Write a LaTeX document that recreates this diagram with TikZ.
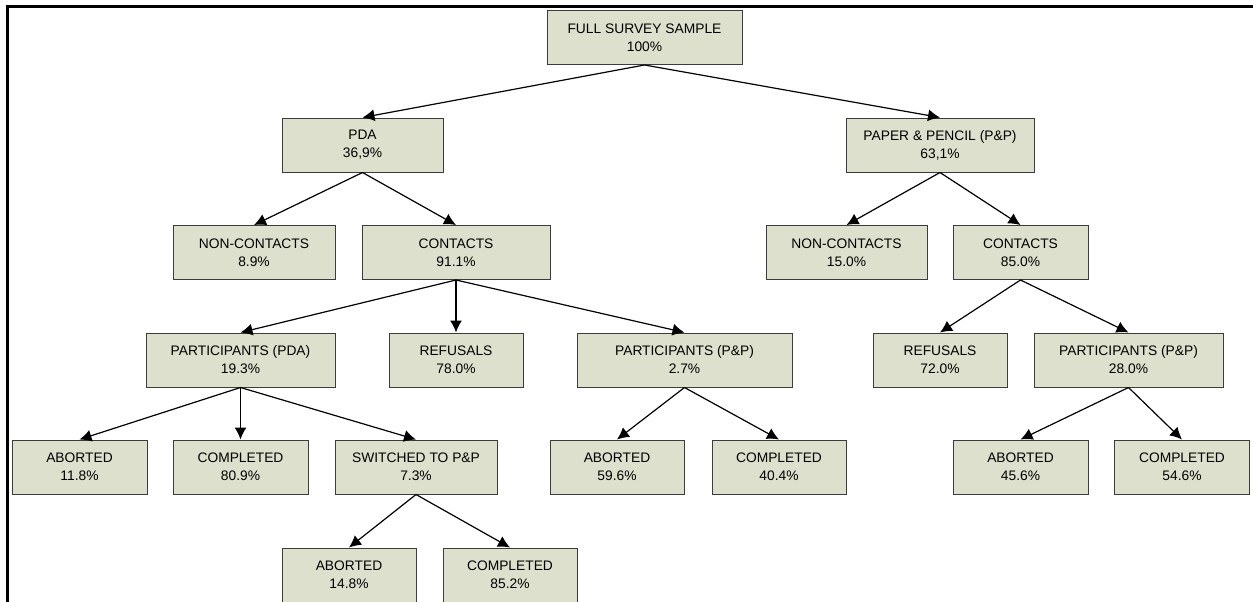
\documentclass[tikz,border=0pt]{standalone}
\usepackage{fontspec}
\setmainfont{Liberation Sans}
\usetikzlibrary{arrows.meta}
\definecolor{boxfill}{RGB}{221,224,204}
\definecolor{boxline}{RGB}{60,60,60}

\begin{document}
\begin{tikzpicture}[x=1pt,y=-1pt,
  box/.style={draw=boxline, fill=boxfill, line width=1pt, minimum height=54pt,
    inner sep=0pt, align=center, font=\fontsize{13.8}{18}\selectfont},
  link/.style={-{Latex[length=12pt,width=12pt]}, line width=1.2pt}]
\useasboundingbox (0,0) rectangle (1253,602);

%frame round the figure
\draw[line width=3pt] (7,602) -- (7,7) -- (1253,7);

%top
\node[box, minimum width=195pt] (full) at (644.5,37.5) {FULL SURVEY SAMPLE\\100\%};

%mode
\node[box, minimum width=161pt] (pda) at (362.5,145) {PDA\\36,9\%};
\node[box, minimum width=188pt] (pp) at (940,145) {PAPER \& PENCIL (P\&P)\\63,1\%};

%contact
\node[box, minimum width=162pt] (noncont1) at (254,252.5) {NON-CONTACTS\\8.9\%};
\node[box, minimum width=188pt] (cont1) at (456,252.5) {CONTACTS\\91.1\%};
\node[box, minimum width=161pt] (noncont2) at (846.5,252.5) {NON-CONTACTS\\15.0\%};
\node[box, minimum width=135pt] (cont2) at (1020.5,252.5) {CONTACTS\\85.0\%};

%participation
\node[box, minimum width=189pt] (partpda) at (240.5,360) {PARTICIPANTS (PDA)\\19.3\%};
\node[box, minimum width=134pt] (refus1) at (456,360) {REFUSALS\\78.0\%};
\node[box, minimum width=215pt] (partpp1) at (684.5,360) {PARTICIPANTS (P\&P)\\2.7\%};
\node[box, minimum width=134pt] (refus2) at (940,360) {REFUSALS\\72.0\%};
\node[box, minimum width=189pt] (partpp2) at (1128.5,360) {PARTICIPANTS (P\&P)\\28.0\%};

%outcome
\node[box, minimum width=135pt] (abort1) at (79.5,467) {ABORTED\\11.8\%};
\node[box, minimum width=135pt] (compl1) at (240.5,467) {COMPLETED\\80.9\%};
\node[box, minimum width=162pt] (switch) at (416,467) {SWITCHED TO P\&P\\7.3\%};
\node[box, minimum width=134pt] (abort2) at (617,467) {ABORTED\\59.6\%};
\node[box, minimum width=134pt] (compl2) at (779,467) {COMPLETED\\40.4\%};
\node[box, minimum width=135pt] (abort3) at (1020.5,467) {ABORTED\\45.6\%};
\node[box, minimum width=135pt] (compl3) at (1182,467) {COMPLETED\\54.6\%};

%switched ones
\node[box, minimum width=134pt] (abort4) at (349,575) {ABORTED\\14.8\%};
\node[box, minimum width=134pt] (compl4) at (510,575) {COMPLETED\\85.2\%};

%arrows
\draw[link] (full.south) -- (pda.north);
\draw[link] (full.south) -- (pp.north);
\draw[link] (pda.south) -- (noncont1.north);
\draw[link] (pda.south) -- (cont1.north);
\draw[link] (pp.south) -- (noncont2.north);
\draw[link] (pp.south) -- (cont2.north);
\draw[link] (cont1.south) -- (partpda.north);
\draw[link] (cont1.south) -- (refus1.north);
\draw[link] (cont1.south) -- (partpp1.north);
\draw[link] (cont2.south) -- (refus2.north);
\draw[link] (cont2.south) -- (partpp2.north);
\draw[link] (partpda.south) -- (abort1.north);
\draw[link] (partpda.south) -- (compl1.north);
\draw[link] (partpda.south) -- (switch.north);
\draw[link] (partpp1.south) -- (abort2.north);
\draw[link] (partpp1.south) -- (compl2.north);
\draw[link] (partpp2.south) -- (abort3.north);
\draw[link] (partpp2.south) -- (compl3.north);
\draw[link] (switch.south) -- (abort4.north);
\draw[link] (switch.south) -- (compl4.north);
\end{tikzpicture}
\end{document}
